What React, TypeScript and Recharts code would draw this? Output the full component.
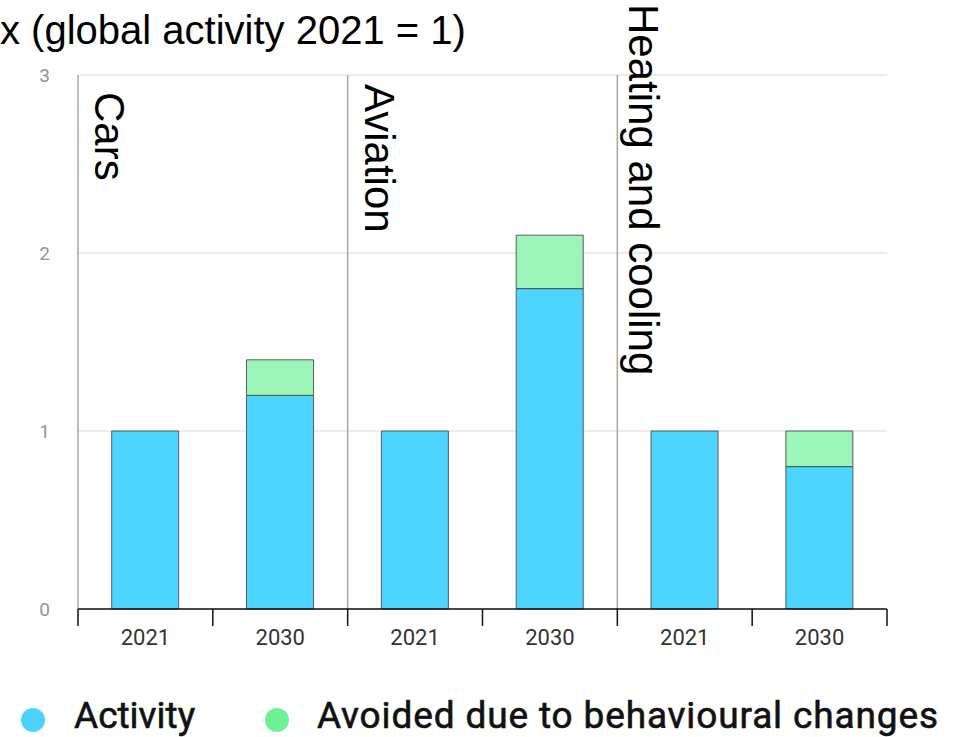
import React from 'react';
import { BarChart, Bar, XAxis, YAxis, CartesianGrid, ReferenceLine } from 'recharts';

// Index values, global activity in 2021 = 1
const sectors = ['Cars', 'Aviation', 'Heating and cooling'];
const years = ['2021', '2030'];
const activity = [1, 1.2, 1, 1.8, 1, 0.8];
const avoided = [0, 0.2, 0, 0.3, 0, 0.2];
const yTicks = [0, 1, 2, 3];

const series = [
    { key: 'activity', name: 'Activity', fill: '#4dd4ff', dot: '#4cd2ff' },
    { key: 'avoided', name: 'Avoided due to behavioural changes', fill: '#9ef5b9', dot: '#6ef294' },
];

const data = sectors.flatMap((sector, s) =>
    years.map((year, y) => ({
        key: `${sector}|${year}`,
        year,
        activity: activity[s * years.length + y],
        avoided: avoided[s * years.length + y],
    }))
);

// where each rotated sector name sits relative to its divider line
const sectorLabelOffset = [
    { dx: 17, dy: 17 },
    { dx: 17, dy: 9 },
    { dx: 12, dy: -71 },
];

const YearTick = (props: any) => {
    const { x, y, payload, index } = props;
    const half = payload?.offset ?? 0;
    const isLast = index === data.length - 1;
    return (
        <g>
            <line x1={x - half} x2={x - half} y1={y} y2={y + 17} stroke="#111" strokeWidth={1.5} />
            {isLast && <line x1={x + half} x2={x + half} y1={y} y2={y + 17} stroke="#111" strokeWidth={1.5} />}
            <text x={x} y={y + 36} textAnchor="middle" fontSize={22} fill="#333" fontFamily="Roboto">
                {data[index]?.year}
            </text>
        </g>
    );
};

const App: React.FC = () => {
    return (
        <div style={{ position: 'absolute', left: 0, top: 0, width: 967, height: 737, background: '#fff' }}>
            <svg width={967} height={60} style={{ position: 'absolute', left: 0, top: 0 }}>
                <text x={0} y={44} fontSize={40} fontFamily="'Liberation Sans', Arial, sans-serif" fill="#000">
                    x (global activity 2021 = 1)
                </text>
            </svg>
            <div style={{ position: 'absolute', left: 0, top: 0 }}>
                <BarChart
                    width={967}
                    height={737}
                    data={data}
                    margin={{ top: 75, right: 80, bottom: 88, left: 28 }}
                    barCategoryGap="25%"
                >
                    <CartesianGrid vertical={false} stroke="#ececec" strokeWidth={2} />
                    <XAxis
                        dataKey="key"
                        height={40}
                        tickSize={0}
                        tickMargin={0}
                        tickLine={false}
                        axisLine={{ stroke: '#111', strokeWidth: 1.5 }}
                        tick={<YearTick />}
                        interval={0}
                    />
                    <YAxis
                        width={50}
                        domain={[0, 3]}
                        ticks={yTicks}
                        tickSize={0}
                        tickMargin={28}
                        axisLine={false}
                        tickLine={false}
                        tick={{ fontSize: 19, fill: '#8a95a3', fontFamily: 'Roboto' }}
                    />
                    {sectors.map((sector, i) => (
                        <ReferenceLine
                            key={sector}
                            x={`${sector}|${years[0]}`}
                            position="start"
                            stroke="#a6a6a6"
                            strokeWidth={1.5}
                            label={({ viewBox }: any) => (
                                <text
                                    transform={`translate(${viewBox.x + sectorLabelOffset[i].dx}, ${viewBox.y + sectorLabelOffset[i].dy}) rotate(90)`}
                                    fontSize={42}
                                    fontFamily="'Liberation Sans', Arial, sans-serif"
                                    fill="#000"
                                >
                                    {sector}
                                </text>
                            )}
                        />
                    ))}
                    {series.map((s) => (
                        <Bar
                            key={s.key}
                            dataKey={s.key}
                            name={s.name}
                            stackId="a"
                            fill={s.fill}
                            stroke="#444"
                            strokeOpacity={0.85}
                            strokeWidth={1}
                            isAnimationActive={false}
                        />
                    ))}
                </BarChart>
            </div>
            <svg width={967} height={47} style={{ position: 'absolute', left: 0, top: 690 }}>
                <circle cx={33} cy={30} r={12} fill={series[0].dot} />
                <text x={74} y={38} fontSize={37} fontFamily="Roboto" fill="#111" stroke="#111" strokeWidth={0.6}>
                    {series[0].name}
                </text>
                <circle cx={277} cy={30} r={12} fill={series[1].dot} />
                <text x={317} y={38} fontSize={37} fontFamily="Roboto" fill="#111" stroke="#111" strokeWidth={0.6} textLength={621} lengthAdjust="spacing">
                    {series[1].name}
                </text>
            </svg>
        </div>
    );
};

export default App;
